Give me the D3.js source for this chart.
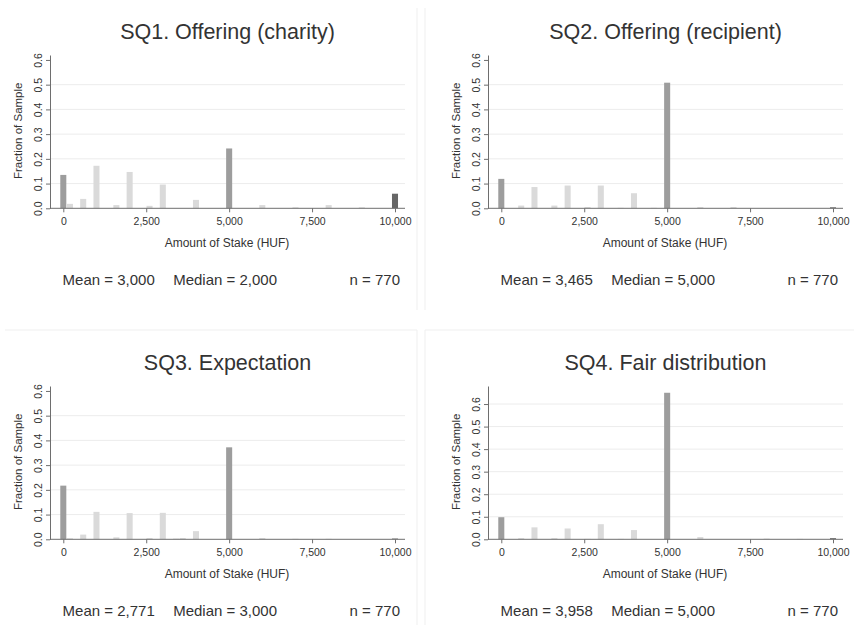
<!DOCTYPE html>
<html lang="en">
<head>
<meta charset="UTF-8">
<title>Stake histograms</title>
<script src="https://cdn.jsdelivr.net/npm/d3@7"></script>
<style>
    body { margin: 0; background: #fff; }
    svg text { font-family: "Liberation Sans", Arial, sans-serif; fill: #333; }
</style>
</head>
<body>
<svg id="chart" width="854" height="625"></svg>

<script>
    /* global d3 */

    // panel texts
    var titles = ["SQ1. Offering (charity)", "SQ2. Offering (recipient)", "SQ3. Expectation", "SQ4. Fair distribution"];
    var means = ["3,000", "3,465", "2,771", "3,958"];
    var medians = ["2,000", "5,000", "3,000", "5,000"];
    var counts = ["770", "770", "770", "770"];

    var xTicks = [0, 2500, 5000, 7500, 10000];
    var yTicks = [0, 0.1, 0.2, 0.3, 0.4, 0.5, 0.6];
    var yMax = [0.62, 0.62, 0.62, 0.68];
    var binWidth = 200;

    // bin centres (HUF) and fraction of sample
    var sq1Bins     = [0, 200, 600, 1000, 1600, 2000, 2600, 3000, 4000, 5000, 6000, 7000, 8000, 9000, 10000];
    var sq1Fraction = [0.135, 0.018, 0.038, 0.172, 0.013, 0.147, 0.010, 0.096, 0.034, 0.242, 0.013, 0.004, 0.013, 0.004, 0.059];

    var sq2Bins     = [0, 600, 1000, 1600, 2000, 2600, 3000, 3600, 4000, 4600, 5000, 6000, 7000, 10000];
    var sq2Fraction = [0.119, 0.011, 0.086, 0.011, 0.092, 0.005, 0.092, 0.002, 0.061, 0.002, 0.508, 0.005, 0.005, 0.004];

    var sq3Bins     = [0, 200, 600, 1000, 1600, 2000, 2600, 3000, 3400, 3600, 4000, 5000, 6000, 7000, 8000, 10000];
    var sq3Fraction = [0.217, 0.004, 0.019, 0.111, 0.008, 0.106, 0.005, 0.107, 0.003, 0.005, 0.033, 0.372, 0.005, 0.002, 0.002, 0.003];

    var sq4Bins     = [0, 600, 1000, 1600, 2000, 2600, 3000, 3600, 4000, 5000, 6000, 8000, 9000, 10000];
    var sq4Fraction = [0.098, 0.005, 0.053, 0.005, 0.048, 0.002, 0.067, 0.002, 0.041, 0.650, 0.010, 0.003, 0.002, 0.005];

    var binsList = [sq1Bins, sq2Bins, sq3Bins, sq4Bins];
    var fracList = [sq1Fraction, sq2Fraction, sq3Fraction, sq4Fraction];

    var svg = d3.select("#chart"),
        offX = [0, 438, 0, 438],
        offY = [0, 0, 331, 331],
        fmt = d3.format(",");

    // faint separators between the combined graphs
    var seps = [
        [417, 8, 417, 310], [425, 8, 425, 310],
        [417, 330, 417, 625], [425, 330, 425, 625],
        [5, 330, 417, 330], [425, 330, 854, 330]
    ];
    svg.selectAll("line.sep")
        .data(seps)
        .enter().append("line")
        .attr("class", "sep")
        .attr("x1", function (d) { return d[0]; })
        .attr("y1", function (d) { return d[1]; })
        .attr("x2", function (d) { return d[2]; })
        .attr("y2", function (d) { return d[3]; })
        .attr("stroke", "#efefef");

    function barColor(v) {
        if (v === 10000) return "#666666";
        if (v === 0 || v === 5000) return "#9d9d9d";
        return "#dadada";
    }

    titles.forEach(function (title, i) {
        var g = svg.append("g").attr("transform", "translate(" + offX[i] + "," + offY[i] + ")");

        var x = d3.scaleLinear().domain([0, 10000]).range([63.3, 395]),
            y = d3.scaleLinear().domain([0, yMax[i]]).range([208.3, 55]);

        // gridlines
        g.selectAll("line.grid")
            .data(yTicks.filter(function (t) { return t > 0 && y(t) > 62; }))
            .enter().append("line")
            .attr("class", "grid")
            .attr("x1", 50).attr("x2", 405)
            .attr("y1", function (t) { return y(t); })
            .attr("y2", function (t) { return y(t); })
            .attr("stroke", "#ececec");

        // bars
        var w = x(binWidth) - x(0);
        var data = binsList[i].map(function (b, k) { return {bin: b, frac: fracList[i][k]}; });
        g.selectAll("rect.bar")
            .data(data)
            .enter().append("rect")
            .attr("class", "bar")
            .attr("x", function (d) { return x(d.bin) - w / 2 + 0.3; })
            .attr("width", w - 0.6)
            .attr("y", function (d) { return y(d.frac); })
            .attr("height", function (d) { return y(0) - y(d.frac); })
            .attr("fill", function (d) { return barColor(d.bin); });

        // y axis
        var yAxis = g.append("g")
            .attr("transform", "translate(50,0)")
            .call(d3.axisLeft(y).tickValues(yTicks).tickSize(4).tickSizeOuter(0)
                .tickFormat(d3.format(".1f")));
        yAxis.select(".domain").attr("stroke", "#6e6e6e");
        yAxis.selectAll(".tick line").attr("stroke", "#6e6e6e");
        yAxis.selectAll(".tick text")
            .attr("transform", "rotate(-90)")
            .attr("x", 0).attr("y", -8).attr("dy", 0)
            .attr("text-anchor", "middle")
            .style("font-size", "10.5px");

        // x axis
        g.append("line")
            .attr("x1", 50).attr("x2", 405)
            .attr("y1", 208.3).attr("y2", 208.3)
            .attr("stroke", "#6e6e6e");
        var xAxis = g.append("g")
            .attr("transform", "translate(0,208.3)")
            .call(d3.axisBottom(x).tickValues(xTicks).tickSize(4).tickPadding(5)
                .tickFormat(fmt));
        xAxis.select(".domain").remove();
        xAxis.selectAll(".tick line").attr("stroke", "#6e6e6e");
        xAxis.selectAll(".tick text").style("font-size", "10.5px");

        // titles
        g.append("text")
            .attr("x", 227.5).attr("y", 39.3)
            .attr("text-anchor", "middle")
            .style("font-size", "21.5px")
            .text(title);

        g.append("text")
            .attr("transform", "translate(22,130.8) rotate(-90)")
            .attr("text-anchor", "middle")
            .style("font-size", "11.5px")
            .text("Fraction of Sample");

        g.append("text")
            .attr("x", 227).attr("y", 246.5)
            .attr("text-anchor", "middle")
            .style("font-size", "12px")
            .text("Amount of Stake (HUF)");

        // note line
        g.append("text")
            .attr("x", 62.6).attr("y", 285)
            .style("font-size", "15px")
            .text("Mean = " + means[i]);
        g.append("text")
            .attr("x", 173.2).attr("y", 285)
            .style("font-size", "15px")
            .text("Median = " + medians[i]);
        g.append("text")
            .attr("x", 400).attr("y", 285)
            .attr("text-anchor", "end")
            .style("font-size", "15px")
            .text("n = " + counts[i]);
    });
</script>
</body>
</html>
